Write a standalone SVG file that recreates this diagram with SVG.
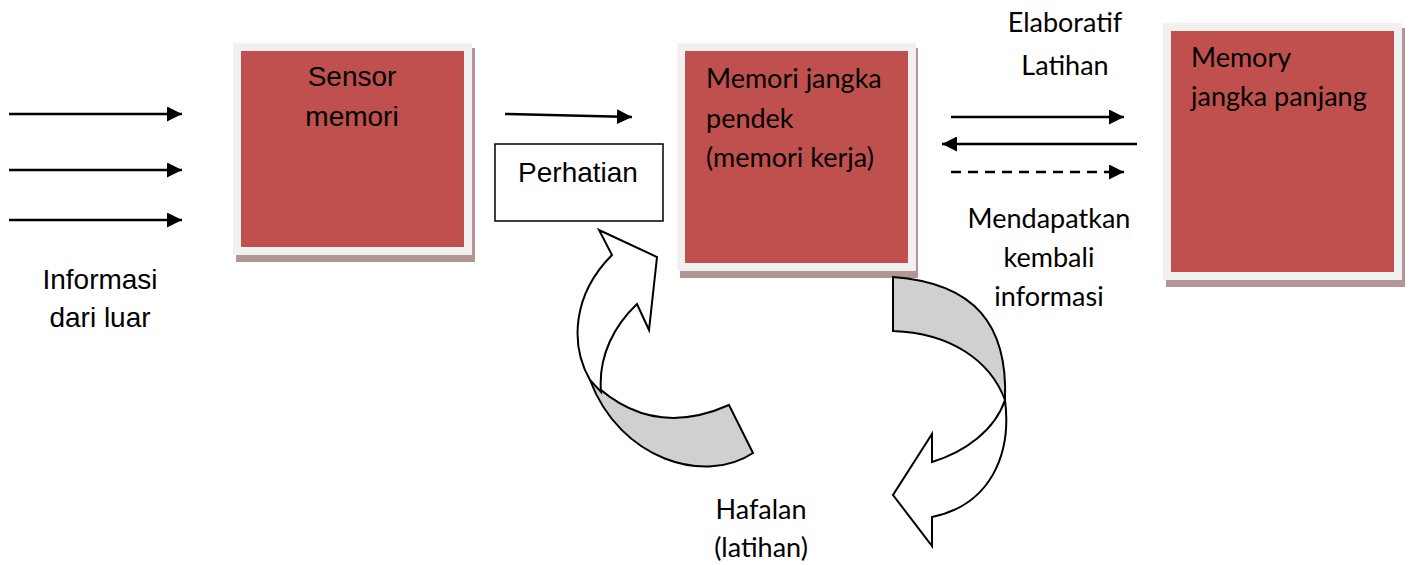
<svg xmlns="http://www.w3.org/2000/svg" width="1410" height="565" viewBox="0 0 1410 565">
<style>
.frame{fill:#f1f1f1}
.shadow{fill:#b39595}
.red{fill:#c0504d}
.ar{font-family:"Liberation Sans",Arial,sans-serif;font-size:28px;fill:#000}
.ca{font-family:Lato,"Open Sans",sans-serif;font-size:27px;fill:#000}
.ln{stroke:#000;stroke-width:2.5;fill:none}
.curve{stroke:#000;stroke-width:2;stroke-linejoin:miter}
</style>
<defs>
<marker id="ah" markerUnits="userSpaceOnUse" markerWidth="16" markerHeight="15" refX="15" refY="7.5" orient="auto">
<path d="M0,0 L15,7.5 L0,15 Z" fill="#000"/>
</marker>
</defs>
<rect width="1410" height="565" fill="#fff"/>

<g id="sensor">
<rect class="shadow" x="236" y="48" width="239" height="214"/>
<rect class="frame" x="233" y="43" width="239" height="212"/>
<rect class="red" x="241" y="51" width="223" height="196"/>
<text class="ar" x="352" y="86" text-anchor="middle">Sensor</text>
<text class="ar" x="352" y="126" text-anchor="middle">memori</text>
</g>

<g id="stm">
<rect class="shadow" x="680" y="48" width="238" height="230"/>
<rect class="frame" x="677" y="43" width="239" height="228"/>
<rect class="red" x="685" y="51" width="223" height="212"/>
<text class="ca" x="706" y="88">Memori jangka</text>
<text class="ca" x="706" y="128">pendek</text>
<text class="ca" x="706" y="167">(memori kerja)</text>
</g>

<g id="ltm">
<rect class="shadow" x="1166" y="28" width="239" height="259"/>
<rect class="frame" x="1163" y="23" width="239" height="257"/>
<rect class="red" x="1171" y="31" width="223" height="241"/>
<text class="ca" x="1191" y="67">Memory</text>
<text class="ca" x="1191" y="106">jangka panjang</text>
</g>

<g id="perhatian">
<rect x="495" y="144" width="168" height="77" fill="#fff" stroke="#000" stroke-width="1.5"/>
<text class="ar" x="578" y="182" text-anchor="middle">Perhatian</text>
</g>

<g id="input-label">
<text class="ar" x="100" y="289" text-anchor="middle">Informasi</text>
<text class="ar" x="100" y="327" text-anchor="middle">dari luar</text>
</g>

<g id="labels">
<text class="ca" x="1065" y="32" text-anchor="middle">Elaboratif</text>
<text class="ca" x="1065" y="75" text-anchor="middle">Latihan</text>
<text class="ca" x="1049" y="228" text-anchor="middle">Mendapatkan</text>
<text class="ca" x="1049" y="267" text-anchor="middle">kembali</text>
<text class="ca" x="1049" y="306" text-anchor="middle">informasi</text>
<text class="ca" x="761" y="519" text-anchor="middle">Hafalan</text>
<text class="ca" x="761" y="557" text-anchor="middle">(latihan)</text>
</g>

<g id="connectors">
<line class="ln" x1="9" y1="114" x2="182" y2="114" marker-end="url(#ah)"/>
<line class="ln" x1="9" y1="170" x2="182" y2="170" marker-end="url(#ah)"/>
<line class="ln" x1="9" y1="220" x2="182" y2="220" marker-end="url(#ah)"/>
<line class="ln" x1="505" y1="114" x2="632" y2="117" marker-end="url(#ah)"/>
<line class="ln" x1="951" y1="117" x2="1124" y2="117" marker-end="url(#ah)"/>
<line class="ln" x1="1137" y1="144" x2="942" y2="144" marker-end="url(#ah)"/>
<line class="ln" x1="951" y1="172" x2="1124" y2="172" stroke-dasharray="10,7" marker-end="url(#ah)"/>

<g id="loop-hafalan">
<path class="curve" fill="#d0d0d0" d="M590,380 Q650,440 729,405 L753,453 C705,485 620,460 590,380 Z"/>
<path class="curve" fill="#fff" d="M590,380 C570,345 572,295 612,255 L599,230 L657,257 L649,330 L637,304 C615,325 598,355 601,392 Z"/>
</g>
<g id="loop-retrieve">
<path class="curve" fill="#d0d0d0" d="M893,277 C975,283 1008,325 1005,400 C990,360 950,333 893,331 Z"/>
<path class="curve" fill="#fff" d="M1005,400 C1012,455 990,505 932,517 L932,546 L893,495 L932,434 L932,462 C965,452 995,430 1005,400 Z"/>
</g>
</g>
</svg>
